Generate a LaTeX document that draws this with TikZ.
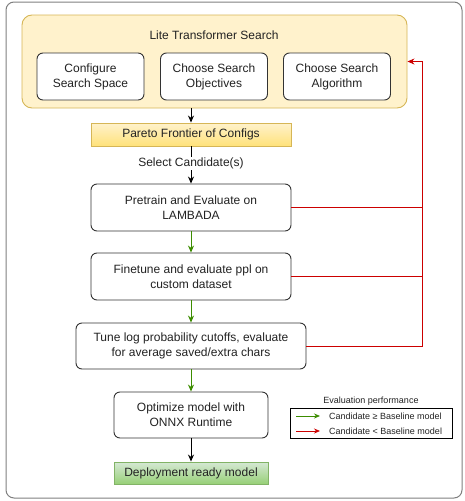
\documentclass[tikz,border=0pt]{standalone}
\usepackage{fontspec}
\setmainfont{Liberation Sans}
\usetikzlibrary{arrows.meta,shadings}
\definecolor{frame}{HTML}{7F7F7F}
\definecolor{ybg}{HTML}{FFF2CC}
\definecolor{yln}{HTML}{D6B656}
\definecolor{ydk}{HTML}{FFE27A}
\definecolor{gbg}{HTML}{D5E8D4}
\definecolor{gdk}{HTML}{97D077}
\definecolor{gln}{HTML}{82B366}
\definecolor{boxln}{HTML}{333333}
\definecolor{okgreen}{HTML}{3C8C00}
\definecolor{badred}{HTML}{CC0000}
\definecolor{txt}{HTML}{222222}
\tikzset{
  stepbox/.style={draw=boxln, line width=0.9pt, fill=white, rounded corners=6pt, align=center,
    text=txt, font=\fontsize{12}{15}\selectfont, inner sep=0pt},
  arr/.style={-{Stealth[length=7pt,width=6pt]}, line width=0.9pt},
  blk/.style={arr, draw=black},
  grn/.style={arr, draw=okgreen},
  rline/.style={draw=badred, line width=0.8pt},
  rarr/.style={rline, -{Stealth[length=7pt,width=6pt]}},
  lbl/.style={text=txt, font=\fontsize{12}{15}\selectfont, inner sep=1pt},
  small/.style={text=txt, font=\fontsize{9}{10}\selectfont, inner sep=0pt},
}
\begin{document}
\begin{tikzpicture}[x=1pt,y=-1pt]
\useasboundingbox (0,0) rectangle (464,501);
\draw[frame, line width=1pt, rounded corners=8pt] (6,2) rectangle (462,498);

\node[draw=yln, fill=ybg, line width=0.9pt, rounded corners=10pt, minimum width=385pt, minimum height=93pt, inner sep=0pt] (lts) at (214.5,61.5) {};
\node[lbl] (ltstitle) at (214,35) {Lite Transformer Search};
\node[stepbox, minimum width=107pt, minimum height=47pt] (b1) at (90.5,76.5) {Configure\\Search Space};
\node[stepbox, minimum width=107pt, minimum height=47pt] (b2) at (214,76.5) {Choose Search\\Objectives};
\node[stepbox, minimum width=107pt, minimum height=47pt] (b3) at (337,76.5) {Choose Search\\Algorithm};

\node[draw=yln, line width=0.9pt, top color=ybg, bottom color=ydk, minimum width=200pt, minimum height=23pt, inner sep=0pt, text=txt, font=\fontsize{12}{15}\selectfont] (pareto) at (191,134.5) {Pareto Frontier of Configs};

\node[stepbox, minimum width=200pt, minimum height=47pt] (pretrain) at (191,207.5) {Pretrain and Evaluate on\\LAMBADA};
\node[stepbox, minimum width=200pt, minimum height=47pt] (finetune) at (191,276.5) {Finetune and evaluate ppl on\\custom dataset};
\node[stepbox, minimum width=230pt, minimum height=46pt] (tune) at (191,346) {Tune log probability cutoffs, evaluate\\for average saved/extra chars};
\node[stepbox, minimum width=154pt, minimum height=46pt] (optim) at (191,415) {Optimize model with\\ONNX Runtime};
\node[draw=gln, line width=0.9pt, top color=gbg, bottom color=gdk, minimum width=154pt, minimum height=22pt, inner sep=0pt, text=txt, font=\fontsize{12}{15}\selectfont] (deploy) at (191,473) {Deployment ready model};

\draw[blk] (pareto.north |- lts.south) -- (pareto.north);
\draw[blk] (pareto.south) -- node[lbl, fill=white, pos=0.45] (sel) {Select Candidate(s)} (pretrain.north);
\draw[grn] (pretrain.south) -- (finetune.north);
\draw[grn] (finetune.south) -- (tune.north);
\draw[grn] (tune.south) -- (optim.north);
\draw[blk] (optim.south) -- (deploy.north);

\coordinate (rx) at (422,61.5);
\draw[rline] (pretrain.east) -- (pretrain.east -| rx);
\draw[rline] (finetune.east) -- (finetune.east -| rx);
\draw[rarr] (tune.east) -| (rx) -- (lts.east);

\node[small] (legt) at (371,401) {Evaluation performance};
\node[draw=black, line width=0.8pt, minimum width=162pt, minimum height=30pt, inner sep=0pt] (leg) at (371,423) {};
\coordinate (g1) at (296,416);
\coordinate (g2) at (320,416);
\coordinate (r1) at (296,431);
\coordinate (r2) at (320,431);
\draw[okgreen, line width=0.8pt, -{Stealth[length=6pt,width=5pt]}] (g1) -- (g2);
\draw[badred, line width=0.8pt, -{Stealth[length=6pt,width=5pt]}] (r1) -- (r2);
\node[small, anchor=west] (lg) at (329,416) {Candidate ≥ Baseline model};
\node[small, anchor=west] (lr) at (329,431) {Candidate < Baseline model};
\end{tikzpicture}
\end{document}
